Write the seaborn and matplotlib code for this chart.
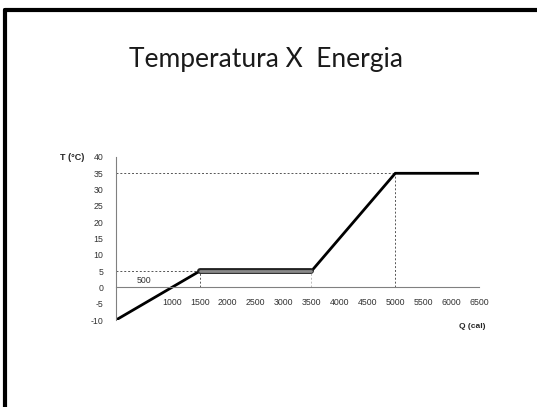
import matplotlib
matplotlib.use('Agg')
import matplotlib.pyplot as plt
import seaborn as sns
import pandas as pd
from matplotlib.lines import Line2D

# --- datos ---
energia = [0, 1500, 3500, 5000, 6500]      # Q (cal)
temperatura = [-10, 5, 5, 35, 35]          # T (°C)
x_ticks = [500, 1000, 1500, 2000, 2500, 3000, 3500, 4000, 4500, 5000, 5500, 6000, 6500]
y_ticks = [-10, -5, 0, 5, 10, 15, 20, 25, 30, 35, 40]

df = pd.DataFrame({'Q': energia, 'T': temperatura})
meseta = df.iloc[1:3]

sns.set_style('white')
plt.rcParams['font.family'] = ['Liberation Sans', 'DejaVu Sans']

fig = plt.figure(figsize=(5.37, 4.07), dpi=100)
ax = fig.add_axes([116/537, 1 - 320/407, (479 - 116)/537, (320 - 157)/407])

# lineas punteadas de referencia
gris = '#555555'
ax.hlines(temperatura[1], 0, energia[1], colors=gris, linestyles=(0, (2, 2)), lw=0.7)
ax.hlines(temperatura[3], 0, energia[3], colors=gris, linestyles=(0, (2, 2)), lw=0.7)
ax.vlines(energia[1], 0, temperatura[1], colors=gris, linestyles=(0, (2, 2)), lw=0.7)
ax.vlines(energia[2], 0, temperatura[2], colors='#bbbbbb', linestyles=(0, (2, 2)), lw=0.7)
ax.vlines(energia[3], 0, temperatura[3], colors=gris, linestyles=(0, (2, 2)), lw=0.7)

# curva
sns.lineplot(data=df, x='Q', y='T', ax=ax, color='black', lw=2, sort=False)
sns.lineplot(data=meseta, x='Q', y='T', ax=ax, color='#222222', lw=4.2, sort=False)
sns.lineplot(data=meseta, x='Q', y='T', ax=ax, color='#8a8a8a', lw=2.0, sort=False)

ax.set_xlim(0, 6500)
ax.set_ylim(-10, 40)
ax.set_xlabel('')
ax.set_ylabel('')

for s in ['top', 'right']:
    ax.spines[s].set_visible(False)
ax.spines['bottom'].set_position(('data', 0))
for s in ['left', 'bottom']:
    ax.spines[s].set_color('#808080')
    ax.spines[s].set_linewidth(0.8)

ax.set_xticks(x_ticks)
ax.set_xticklabels([])
ax.set_yticks(y_ticks)
ax.tick_params(axis='x', length=3, direction='inout', color='#808080', width=0.7)
ax.tick_params(axis='y', length=3, direction='out', color='#808080', width=0.7,
               labelsize=6.3, labelcolor='#333333', pad=6)
ax.set_yticklabels([str(v) for v in y_ticks])

# etiquetas del eje x (500 queda arriba del eje)
for v in x_ticks:
    if v == 500:
        ax.text(v, 0.8, str(v), ha='center', va='bottom', fontsize=6.3, color='#333333')
    else:
        ax.text(v, -4.7, str(v), ha='center', va='center', fontsize=6.3, color='#333333')

fig.text(60/537, 1 - 158/407, 'T (°C)', fontsize=6.5, fontweight='bold', va='center', ha='left')
fig.text(472/537, 1 - 326/407, 'Q (cal)', fontsize=6, fontweight='bold', va='center', ha='center')

fig.text(266/537, 1 - 60/407, 'Temperatura X  Energia', fontsize=19, family='Lato',
         ha='center', va='center', color='#1a1a1a')

# marco de la diapositiva
fig.add_artist(Line2D([5/537, 1], [1 - 10/407, 1 - 10/407], color='black', lw=3, transform=fig.transFigure))
fig.add_artist(Line2D([5/537, 5/537], [0, 1 - 10/407], color='black', lw=3, transform=fig.transFigure))

fig.savefig('out.png', dpi=100)
